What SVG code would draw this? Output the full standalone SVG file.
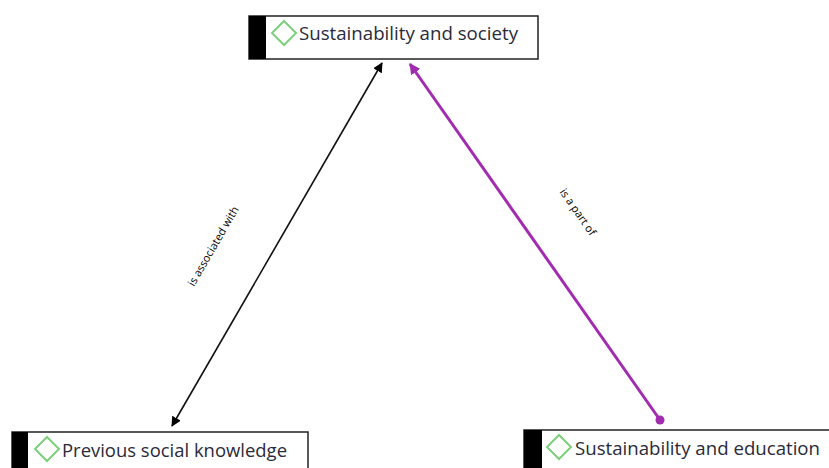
<svg xmlns="http://www.w3.org/2000/svg" width="829" height="468" viewBox="0 0 829 468">
<style>
.box{fill:#fff;stroke:#222;stroke-width:1.5}
.bar{fill:#000}
.dia{fill:none;stroke:#7dcf7d;stroke-width:2}
.lbl{font-family:"Open Sans","Noto Sans",sans-serif;font-size:18px;fill:#2a2a3a}
.elbl{font-family:"Open Sans","Noto Sans",sans-serif;font-size:11px;fill:#000}
</style>
<defs>
<marker id="ab" viewBox="0 0 10 10" refX="9" refY="5" markerWidth="10" markerHeight="10" markerUnits="userSpaceOnUse" orient="auto-start-reverse"><path d="M0,0 L10,5 L0,10 z" fill="#000"/></marker>
<marker id="ap" viewBox="0 0 10 10" refX="9" refY="5" markerWidth="11" markerHeight="11" markerUnits="userSpaceOnUse" orient="auto"><path d="M0,0 L10,5 L0,10 z" fill="#a22cb0"/></marker>
</defs>
<rect width="829" height="468" fill="#fff"/>
<g id="connectors">
<line x1="172" y1="426" x2="382" y2="63" stroke="#111" stroke-width="1.6" marker-start="url(#ab)" marker-end="url(#ab)"/>
<line x1="660" y1="420" x2="410" y2="64" stroke="#a22cb0" stroke-width="3" marker-end="url(#ap)"/>
<circle cx="660" cy="420" r="4.5" fill="#a22cb0"/>
<text class="elbl" transform="translate(220,250) rotate(-60)" text-anchor="middle" dy="-4">is associated with</text>
<text class="elbl" transform="translate(578,212) rotate(55)" text-anchor="middle" dy="4">is a part of</text>
</g>
<g id="node-society">
<rect class="box" x="249" y="16" width="289" height="43"/>
<rect class="bar" x="249" y="16" width="17" height="43"/>
<path class="dia" d="M284,21 L296,33 L284,45 L272,33 z"/>
<text class="lbl" x="299" y="40" textLength="219" lengthAdjust="spacingAndGlyphs">Sustainability and society</text>
</g>
<g id="node-previous">
<rect class="box" x="12" y="432" width="296" height="45"/>
<rect class="bar" x="12" y="432" width="16" height="45"/>
<path class="dia" d="M47,437 L59,449 L47,461 L35,449 z"/>
<text class="lbl" x="62" y="457" textLength="225" lengthAdjust="spacingAndGlyphs">Previous social knowledge</text>
</g>
<g id="node-education">
<rect class="box" x="524" y="430" width="320" height="45"/>
<rect class="bar" x="524" y="430" width="18" height="45"/>
<path class="dia" d="M559,435 L571,447 L559,459 L547,447 z"/>
<text class="lbl" x="575" y="455" textLength="245" lengthAdjust="spacingAndGlyphs">Sustainability and education</text>
</g>
</svg>
